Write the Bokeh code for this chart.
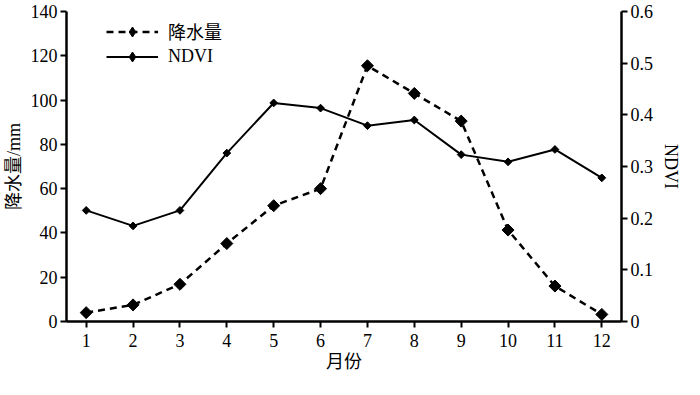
from bokeh.plotting import figure
from bokeh.models import Range1d, LinearAxis, FixedTicker, Legend, LegendItem
from bokeh.embed import file_html
from bokeh.resources import INLINE
import math

months = [1, 2, 3, 4, 5, 6, 7, 8, 9, 10, 11, 12]
precip = [4, 7.5, 16.8, 35.2, 52.3, 60, 115.5, 103, 90.5, 41.3, 16, 3.2]
ndvi = [0.215, 0.185, 0.215, 0.326, 0.423, 0.413, 0.379, 0.39, 0.323, 0.309, 0.333, 0.278]

left_ticks = [0, 20, 40, 60, 80, 100, 120, 140]
right_ticks = [0, 0.1, 0.2, 0.3, 0.4, 0.5, 0.6]

SERIF = "Liberation Serif, Noto Sans CJK SC"
FS = "18px"

p = figure(width=684, height=379, output_backend="svg", toolbar_location=None,
           x_range=Range1d(0.58, 12.42), y_range=Range1d(0, 140),
           min_border_left=66, min_border_right=58, min_border_top=11, min_border_bottom=58)
p.outline_line_color = None
p.xgrid.visible = False
p.ygrid.visible = False
p.extra_y_ranges = {"ndvi": Range1d(0, 0.6)}

def style_axis(ax):
    ax.axis_line_width = 2.5
    ax.axis_line_color = "black"
    ax.major_tick_line_width = 2
    ax.major_tick_out = 6
    ax.major_tick_in = 0
    ax.minor_tick_out = 0
    ax.minor_tick_in = 0
    ax.major_label_text_font = SERIF
    ax.major_label_text_font_size = FS
    ax.major_label_text_color = "black"
    ax.axis_label_text_font = SERIF
    ax.axis_label_text_font_size = FS
    ax.axis_label_text_font_style = "normal"
    ax.axis_label_text_color = "black"
    ax.major_label_standoff = 3

xa = p.xaxis[0]
style_axis(xa)
xa.ticker = FixedTicker(ticks=months)
xa.axis_label = "月份"
xa.axis_label_standoff = 2
xa.major_label_standoff = 6

ya = p.yaxis[0]
style_axis(ya)
ya.ticker = FixedTicker(ticks=left_ticks)
ya.axis_label = "降水量/mm"
ya.axis_label_standoff = 4

ra = LinearAxis(y_range_name="ndvi", ticker=FixedTicker(ticks=right_ticks), axis_label="NDVI")
style_axis(ra)
ra.major_label_overrides = {0: "0"}
ra.axis_label_standoff = 5
p.add_layout(ra, "right")

r_pl = p.line(months, precip, line_color="black", line_width=2.5, line_dash="7 5")
p.scatter(months, precip, marker="square", angle=math.pi / 4, size=8.5,
          fill_color="black", line_color="black")

r_nl = p.line(months, ndvi, y_range_name="ndvi", line_color="black", line_width=2)
p.scatter(months, ndvi, y_range_name="ndvi", marker="square", angle=math.pi / 4, size=5.5,
          fill_color="black", line_color="black")

# legend marker proxies: a single point placed outside the visible range
r_pk = p.scatter(x=[-100], y=[-100], marker="diamond", fill_color="black", line_color="black")
r_nk = p.scatter(x=[-100], y=[-100], marker="diamond", fill_color="black", line_color="black")

legend = Legend(items=[LegendItem(label="降水量", renderers=[r_pl, r_pk]),
                       LegendItem(label="NDVI", renderers=[r_nl, r_nk])],
                location=(40, 252), padding=0, margin=0, spacing=0,
                glyph_width=52, glyph_height=25, label_standoff=10,
                background_fill_alpha=0, border_line_color=None,
                label_text_font=SERIF, label_text_font_size=FS, label_text_color="black")
p.add_layout(legend, "center")

open("out.html", "w").write(file_html(p, INLINE))
